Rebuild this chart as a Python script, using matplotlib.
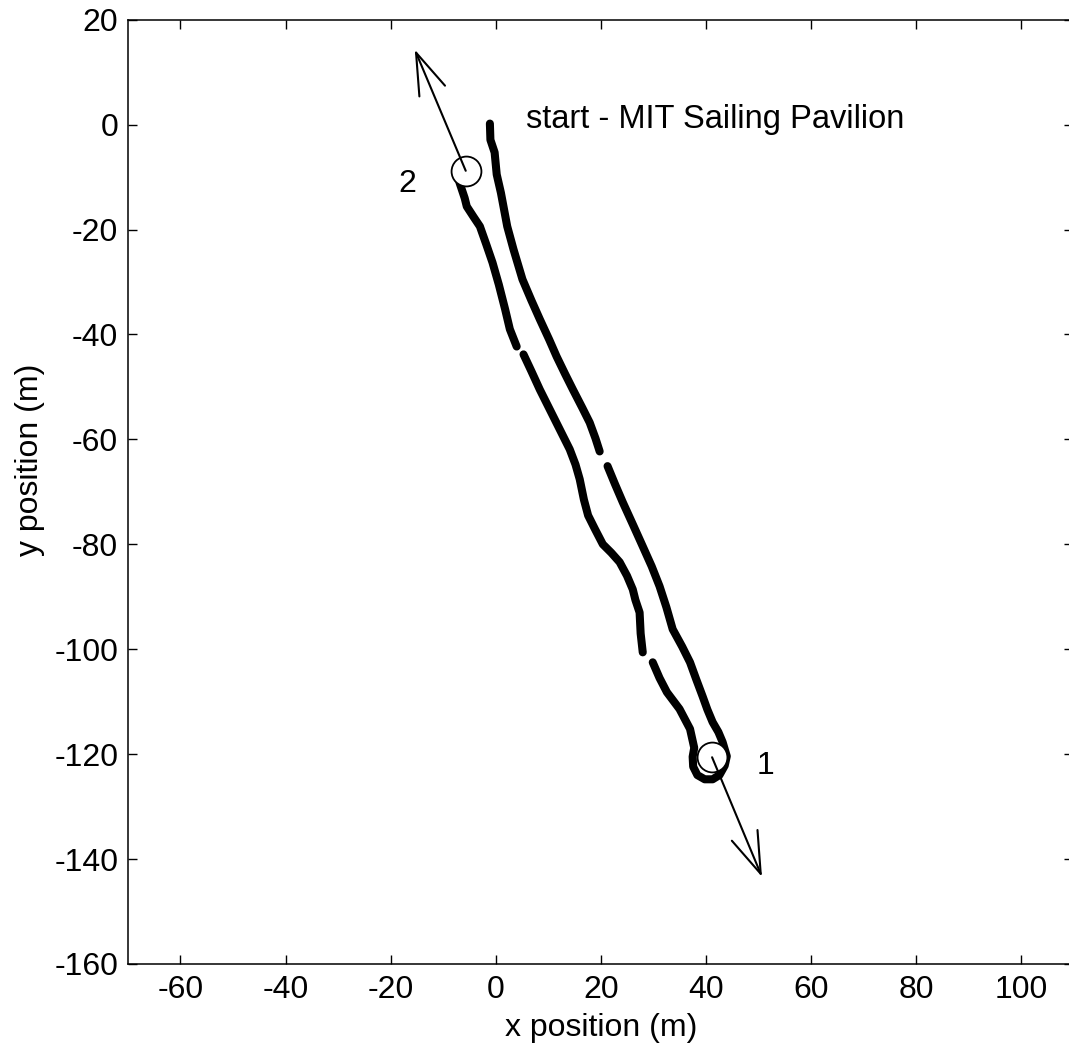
import numpy as np
import matplotlib
matplotlib.use('Agg')
import matplotlib.pyplot as plt

plt.rcParams['font.family'] = ['Liberation Sans', 'DejaVu Sans']
plt.rcParams['axes.unicode_minus'] = False

# GPS track of the sail (m), NaN = dropout gaps in the record
track_x = [-1.1, -1.0, -0.2, 0.2, 1.0, 2.2, 3.4, 5.1, 6.8, 8.4, 10.2, 11.6, 13.2, 14.7,
           16.5, 17.9, 19.0, 19.8, np.nan,
           21.3, 22.7, 24.2, 26.2, 28.0, 29.7, 31.2, 32.5, 33.7, 35.5, 37.0, 38.2,
           39.4, 40.3, 41.3, 42.4, 43.2, 44.0, 43.6, 42.6, 41.3, 39.8, 38.4, 37.6,
           37.5, 37.8, 37.0, 35.0, 32.6, 31.2, 29.9, np.nan,
           28.0, 27.6, 27.4, 26.6, 26.1, 25.0, 23.6, 22.0, 20.4, 18.9, 17.6, 16.8,
           16.0, 15.2, 14.1, 12.2, 10.3, 8.4, 6.8, 5.3, np.nan,
           4.0, 2.7, 1.8, 0.6, -0.6, -1.8, -3.0, -4.2, -5.5, -5.9, -6.9]
track_y = [0.2, -2.9, -5.3, -9.5, -13.0, -19.4, -23.8, -29.5, -33.5, -37.1, -41.0, -44.2, -47.5, -50.5,
           -54.0, -56.8, -59.8, -62.3, np.nan,
           -65.1, -68.5, -72.0, -76.4, -80.4, -84.2, -88.0, -92.0, -96.2, -99.5, -102.5, -105.8,
           -109.0, -111.5, -113.9, -115.8, -117.7, -120.4, -122.2, -124.0, -124.8, -124.8, -124.0, -122.4,
           -120.5, -118.8, -115.2, -111.4, -108.2, -105.5, -102.5, np.nan,
           -100.6, -97.0, -93.0, -90.6, -88.6, -86.0, -83.4, -81.6, -80.0, -77.1, -74.5, -71.5,
           -67.6, -64.8, -61.9, -58.1, -54.3, -50.5, -47.0, -43.8, np.nan,
           -42.3, -39.0, -35.2, -30.5, -26.3, -22.8, -19.4, -17.6, -15.6, -14.0, -11.0]

# marks (circles) and direction arrows
mark_x = [41.2, -5.7]
mark_y = [-120.6, -8.8]
mark_labels = ['1', '2']
label_x = [51.4, -16.8]
label_y = [-122.3, -11.4]
arrow_tip_x = [50.7, -15.4]
arrow_tip_y = [-143.4, 14.3]

start_text = 'start - MIT Sailing Pavilion'
start_x, start_y = 5.7, 1.0

fig = plt.figure(figsize=(10.69, 10.48), dpi=100)
ax = fig.add_axes([0.1197, 0.0802, 0.8845, 0.901])

ax.plot(track_x, track_y, color='black', lw=5.8, solid_capstyle='round',
        solid_joinstyle='round', zorder=2)

ax.plot(mark_x, mark_y, 'o', ms=21.5, mfc='white', mec='black', mew=1.3,
        ls='none', zorder=3)

for i in range(len(mark_x)):
    ax.annotate('', xy=(arrow_tip_x[i], arrow_tip_y[i]), xytext=(mark_x[i], mark_y[i]),
                arrowprops=dict(arrowstyle='->,head_length=1.5,head_width=0.5',
                                mutation_scale=20, lw=1.5, color='black',
                                shrinkA=0, shrinkB=0), zorder=4)
    ax.text(label_x[i], label_y[i], mark_labels[i], fontsize=23, ha='center', va='center')

ax.text(start_x, start_y, start_text, fontsize=23.5, ha='left', va='center')

ax.set_xlim(-70, 110)
ax.set_ylim(-160, 20)
ax.set_xticks(np.arange(-60, 101, 20))
ax.set_yticks(np.arange(-160, 21, 20))
ax.tick_params(direction='in', length=6.5, width=1, top=True, right=True,
               labelsize=23)
ax.tick_params(axis='x', pad=8)
ax.tick_params(axis='y', pad=7)
for s in ax.spines.values():
    s.set_linewidth(1.1)

ax.set_xlabel('x position (m)', fontsize=23)
ax.set_ylabel('y position (m)', fontsize=23)
ax.xaxis.set_label_coords(0.5, -0.052)
ax.yaxis.set_label_coords(-0.088, 0.534)

fig.savefig('out.png', dpi=100)
